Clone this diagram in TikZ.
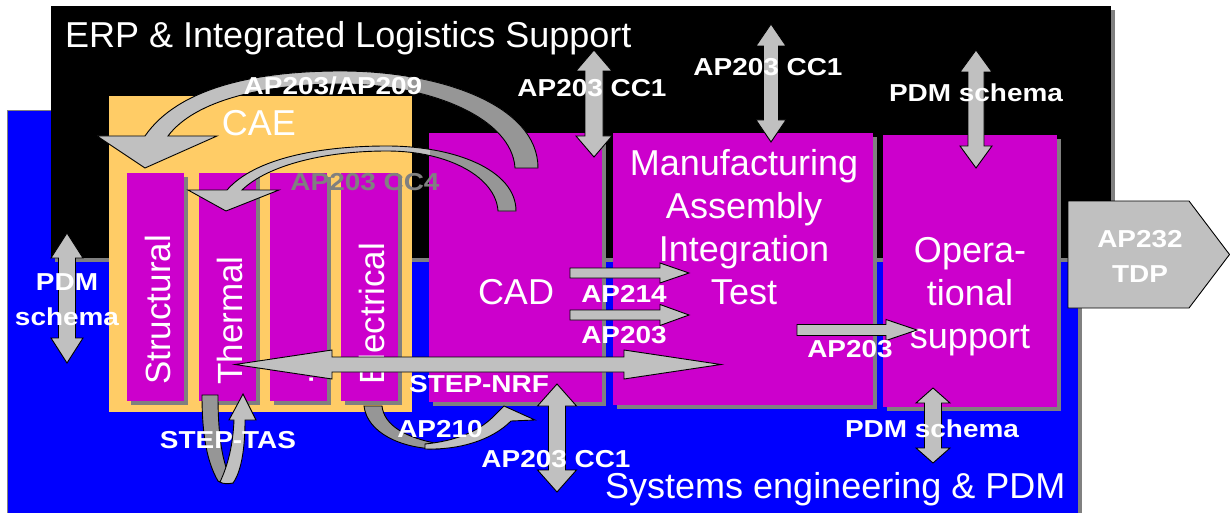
\documentclass[tikz,border=0pt]{standalone}
\usepackage{fontspec}
\setmainfont{Liberation Sans}
\newfontfamily\lblfamily{Liberation Sans}[FakeStretch=1.14]

\definecolor{bgblue}{HTML}{0000FF}
\definecolor{caeorange}{HTML}{FFCC66}
\definecolor{procmag}{HTML}{CC00CC}
\definecolor{arrowgray}{HTML}{C0C0C0}
\definecolor{arrowdark}{HTML}{969696}
\definecolor{shadowgray}{HTML}{808080}

\tikzset{
  blockarrow/.style={fill=arrowgray, draw=black, line width=0.9pt, line join=miter},
  bigtext/.style={text=white, font=\fontsize{36}{43}\selectfont, inner sep=0pt, align=center},
  coltext/.style={text=white, font=\fontsize{35}{43}\selectfont, inner sep=0pt, rotate=90, anchor=base west},
  lbl/.style={text=white, font=\lblfamily\bfseries\fontsize{24.5}{35}\selectfont, inner sep=0pt, align=center},
}

% filled box with a grey drop shadow: x1 y1 x2 y2 colour
\newcommand\boxwithshadow[5]{%
  \fill[shadowgray] ({#1+4},{#2+4}) rectangle ({#3+4},{#4+4});
  \fill[#5] (#1,#2) rectangle (#3,#4);}

% vertical double block arrow: x ytop ybottom shafthalf headhalf headlength
\newcommand\vdblarrow[6]{%
  \draw[blockarrow] (#1,#2) -- ({#1+#5},{#2+#6}) -- ({#1+#4},{#2+#6}) -- ({#1+#4},{#3-#6})
    -- ({#1+#5},{#3-#6}) -- (#1,#3) -- ({#1-#5},{#3-#6}) -- ({#1-#4},{#3-#6})
    -- ({#1-#4},{#2+#6}) -- ({#1-#5},{#2+#6}) -- cycle;}

% horizontal double block arrow: xleft xright y shafthalf headhalf headlength
\newcommand\hdblarrow[6]{%
  \draw[blockarrow] (#1,#3) -- ({#1+#6},{#3-#5}) -- ({#1+#6},{#3-#4}) -- ({#2-#6},{#3-#4})
    -- ({#2-#6},{#3-#5}) -- (#2,#3) -- ({#2-#6},{#3+#5}) -- ({#2-#6},{#3+#4})
    -- ({#1+#6},{#3+#4}) -- ({#1+#6},{#3+#5}) -- cycle;}

% right-pointing block arrow: xleft xtip y shafthalf headhalf headlength
\newcommand\hsglarrow[6]{%
  \draw[blockarrow] (#1,{#3-#4}) -- ({#2-#6},{#3-#4}) -- ({#2-#6},{#3-#5}) -- (#2,#3)
    -- ({#2-#6},{#3+#5}) -- ({#2-#6},{#3+#4}) -- (#1,{#3+#4}) -- cycle;}

% curved ribbon arrows
\def\bigcurve{(145,136) -- (97,136) -- (145,168) -- (217,136) -- (168,136)
  .. controls (195,100) and (265,84) .. (341,84)
  .. controls (430,84) and (512,118) .. (515,168) -- (538,168)
  .. controls (538,105) and (440,71) .. (341,71)
  .. controls (255,71) and (178,88) .. (145,136) -- cycle}
\def\smallcurve{(227,190) -- (188,190) -- (226,211) -- (279,190) -- (242,190)
  .. controls (268,165) and (325,151) .. (387,151)
  .. controls (450,151) and (496,178) .. (498,211) -- (516,211)
  .. controls (516,170) and (455,146) .. (387,146)
  .. controls (320,146) and (255,158) .. (227,190) -- cycle}

\begin{document}
\begin{tikzpicture}[x=1pt, y=-1pt]
\useasboundingbox (0,0) rectangle (1230,513);

% layers: systems engineering (back), ERP (front)
\fill[shadowgray] (11,114) rectangle (1082,513);
\filldraw[fill=bgblue, draw=shadowgray, line width=1pt] (7.5,110.5) rectangle (1078,514);
\boxwithshadow{51}{6}{1111}{258}{black}

% CAE group
\fill[caeorange] (109,96) rectangle (412,412);
\boxwithshadow{127}{173}{184}{401}{procmag}
\boxwithshadow{199}{173}{256}{401}{procmag}
\boxwithshadow{270}{173}{327}{401}{procmag}
\boxwithshadow{341}{173}{398}{401}{procmag}

% process boxes
\boxwithshadow{429}{133}{602}{402}{procmag}
\boxwithshadow{613}{133}{873}{405}{procmag}
\boxwithshadow{883}{135}{1057}{407}{procmag}

% box titles (multi-line nodes are placed by the baseline of their last line)
\node[bigtext, anchor=base west] (erp) at (65,48) {ERP \& Integrated Logistics Support};
\node[bigtext, anchor=base west] (sys) at (605,498) {Systems engineering \& PDM};
\node[bigtext, anchor=base] (cae) at (259,136) {CAE};
\node[bigtext, anchor=base] (cad) at (516,304) {CAD};
\node[bigtext, anchor=base] (mait) at (744,304) {Manufacturing\\Assembly\\Integration\\Test};
\node[bigtext, anchor=base] (ops) at (970,348) {Opera-\\tional\\support};
\node[coltext] (structural) at (170,385) {Structural};
\node[coltext] (thermal) at (242,385) {Thermal};
\node[coltext] (other) at (313,385) {.};
\node[coltext] (electrical) at (384,385) {Electrical};

% AP203/AP209 ribbon
\fill[arrowgray] \bigcurve;
\begin{scope}
  \clip (408,0) rectangle (560,200);
  \fill[arrowdark] \bigcurve;
\end{scope}
\draw[line width=0.9pt, line join=miter] \bigcurve;

% AP203 CC4 ribbon
\fill[arrowgray] \smallcurve;
\begin{scope}
  \clip (430,0) rectangle (560,230);
  \fill[arrowdark] \smallcurve;
\end{scope}
\draw[line width=0.9pt, line join=miter] \smallcurve;

% exchange arrows
\vdblarrow{594}{50}{157}{9}{18}{21}
\vdblarrow{771}{24}{142}{7.5}{15}{22}
\vdblarrow{976}{50}{168}{8}{16}{22}
\vdblarrow{67}{233}{363}{8.5}{16}{25}
\vdblarrow{557}{384}{492}{8.5}{19.5}{22}
\vdblarrow{933}{388}{463}{8.5}{17}{15}
\hsglarrow{570}{689}{273}{5}{10}{29}
\hsglarrow{570}{689}{315}{5}{10.5}{29}
\hsglarrow{797}{917}{330}{5.5}{10.5}{31}
\hdblarrow{235}{721}{364.5}{7.5}{14.5}{97}

% STEP-TAS loop
\filldraw[fill=arrowdark, line width=0.9pt] (202,395) -- (218,395)
  .. controls (218,435) and (222,465) .. (233,483)
  .. controls (226,484) and (221,483) .. (218,481)
  .. controls (207,462) and (202,435) .. (202,395) -- cycle;
\filldraw[fill=arrowgray, line width=0.9pt, line join=miter] (220,482)
  .. controls (228,465) and (233,445) .. (234,420) -- (229,420) -- (243,394) -- (256,420) -- (245,420)
  .. controls (245,450) and (241,472) .. (233,483)
  .. controls (228,484) and (223,484) .. (220,482) -- cycle;

% AP210 loop
\filldraw[fill=arrowdark, line width=0.9pt] (364,406) -- (382,406)
  .. controls (384,425) and (405,438) .. (440,444) -- (440,449)
  .. controls (400,449) and (367,432) .. (364,406) -- cycle;
\filldraw[fill=arrowgray, line width=0.9pt, line join=miter] (425,449)
  .. controls (460,450) and (492,440) .. (511,421) -- (535,420) -- (504,406) -- (494,416)
  .. controls (478,432) and (455,441) .. (425,444) -- cycle;

% TDP output
\filldraw[fill=arrowgray, draw=black, line width=0.9pt] (1068,201) -- (1189,201) -- (1229.5,254.5) -- (1189,308) -- (1068,308) -- cycle;

% exchange labels
\node[lbl, anchor=base] (l209) at (333,95) {AP203/AP209};
\node[lbl, anchor=base, text=shadowgray] (lcc4) at (365,190) {AP203 CC4};
\node[lbl, anchor=base] (lcc1a) at (592,97) {AP203 CC1};
\node[lbl, anchor=base] (lcc1b) at (768,76) {AP203 CC1};
\node[lbl, anchor=base] (lpdma) at (976,102) {PDM schema};
\node[lbl, anchor=base] (lpdmb) at (67,325) {PDM\\schema};
\node[lbl, anchor=base] (l214) at (624,302) {AP214};
\node[lbl, anchor=base] (l203a) at (624,343) {AP203};
\node[lbl, anchor=base] (l203b) at (850,357) {AP203};
\node[lbl, anchor=base] (lnrf) at (479,392) {STEP-NRF};
\node[lbl, anchor=base] (ltas) at (228,448) {STEP-TAS};
\node[lbl, anchor=base] (l210) at (440,437) {AP210};
\node[lbl, anchor=base] (lcc1c) at (556,467) {AP203 CC1};
\node[lbl, anchor=base] (lpdmc) at (932,437) {PDM schema};
\node[lbl, anchor=base] (ltdp) at (1140,282) {AP232\\TDP};
\end{tikzpicture}
\end{document}
